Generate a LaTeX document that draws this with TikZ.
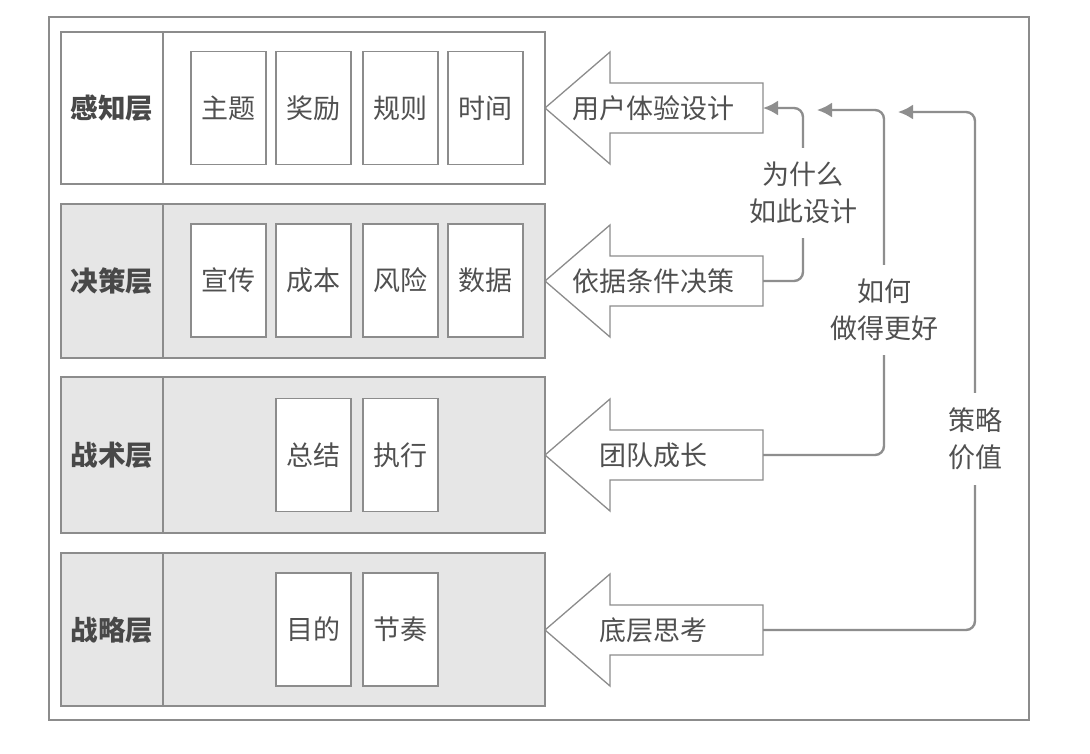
\documentclass[tikz,border=0pt]{standalone}
\usepackage{fontspec}
\setmainfont{Noto Sans CJK SC}
\usetikzlibrary{arrows.meta}
\definecolor{linegray}{HTML}{8C8C8C}
\definecolor{conngray}{HTML}{8E8E8E}
\definecolor{rowfill}{HTML}{E6E6E6}
\definecolor{txt}{HTML}{505050}
\tikzset{
  frame/.style={draw=linegray, line width=1.2pt},
  rowbox/.style={draw=linegray, line width=1.4pt},
  item/.style={draw=linegray, line width=1.3pt, fill=white, minimum width=75pt, minimum height=113pt, inner sep=0pt, font=\fontsize{27}{30}\selectfont, text=txt},
  layerlab/.style={font=\fontsize{27.5}{30}\selectfont\bfseries, text=txt!90!black, inner sep=0pt},
  blockarrow/.style={draw=linegray, line width=1.3pt, fill=white, line join=miter},
  atext/.style={font=\fontsize{27}{30}\selectfont, text=txt, inner sep=0pt},
  sidelab/.style={font=\fontsize{27}{37}\selectfont, text=txt, align=center, inner sep=0pt, minimum width=40pt},
  conn/.style={draw=conngray, line width=2.4pt, rounded corners=9pt},
  tip/.style={-{Latex[length=15pt,width=15pt]}}
}
\begin{document}
\begin{tikzpicture}[x=1pt,y=-1pt]
\useasboundingbox (0,0) rectangle (1090,753);
\fill[white] (0,0) rectangle (1090,753);
\draw[frame] (49,17) rectangle (1029,720);

% rows
\draw[rowbox] (61,32) rectangle (545,184);
\draw[rowbox, fill=rowfill] (61,204) rectangle (545,358);
\draw[rowbox, fill=rowfill] (61,377) rectangle (545,533);
\draw[rowbox, fill=rowfill] (61,553) rectangle (545,706);
\draw[rowbox] (163,32) -- (163,184);
\draw[rowbox] (163,204) -- (163,358);
\draw[rowbox] (163,377) -- (163,533);
\draw[rowbox] (163,553) -- (163,706);

\node[layerlab] (l1) at (112,108) {感知层};
\node[layerlab] (l2) at (112,281) {决策层};
\node[layerlab] (l3) at (112,455) {战术层};
\node[layerlab] (l4) at (112,630) {战略层};

% items
\node[item] (i11) at (228.5,108) {主题};
\node[item] (i12) at (313.5,108) {奖励};
\node[item] (i13) at (400.5,108) {规则};
\node[item] (i14) at (485.5,108) {时间};
\node[item] (i21) at (228.5,280.5) {宣传};
\node[item] (i22) at (313.5,280.5) {成本};
\node[item] (i23) at (400.5,280.5) {风险};
\node[item] (i24) at (485.5,280.5) {数据};
\node[item] (i31) at (313.5,455) {总结};
\node[item] (i32) at (400.5,455) {执行};
\node[item] (i41) at (313.5,629.5) {目的};
\node[item] (i42) at (400.5,629.5) {节奏};

% block arrows
\foreach \yc in {108,281,455,630}{
  \draw[blockarrow] (545,\yc) -- (610,\yc-56) -- (610,\yc-25) -- (763,\yc-25) -- (763,\yc+25) -- (610,\yc+25) -- (610,\yc+56) -- cycle;
}
\node[atext] (a1) at (653,108) {用户体验设计};
\node[atext] (a2) at (653,281) {依据条件决策};
\node[atext] (a3) at (653,455) {团队成长};
\node[atext] (a4) at (653,630) {底层思考};
\coordinate (a1e) at (763,108);
\coordinate (a2e) at (763,281);
\coordinate (a3e) at (763,455);
\coordinate (a4e) at (763,630);
\coordinate (t2) at (817,110);
\coordinate (t3) at (898,112);

% side labels
\node[sidelab, minimum height=90pt] (s1) at (803,193) {为什么\\如此设计};
\node[sidelab, minimum height=90pt] (s2) at (884,310) {如何\\做得更好};
\node[sidelab, minimum height=92pt] (s3) at (975,439) {策略\\价值};

% connectors
\draw[conn] (a2e) -| (s1.south);
\draw[conn, tip] (s1.north) |- (a1e);
\draw[conn] (a3e) -| (s2.south);
\draw[conn, tip] (s2.north) |- (t2);
\draw[conn] (a4e) -| (s3.south);
\draw[conn, tip] (s3.north) |- (t3);
\end{tikzpicture}
\end{document}
